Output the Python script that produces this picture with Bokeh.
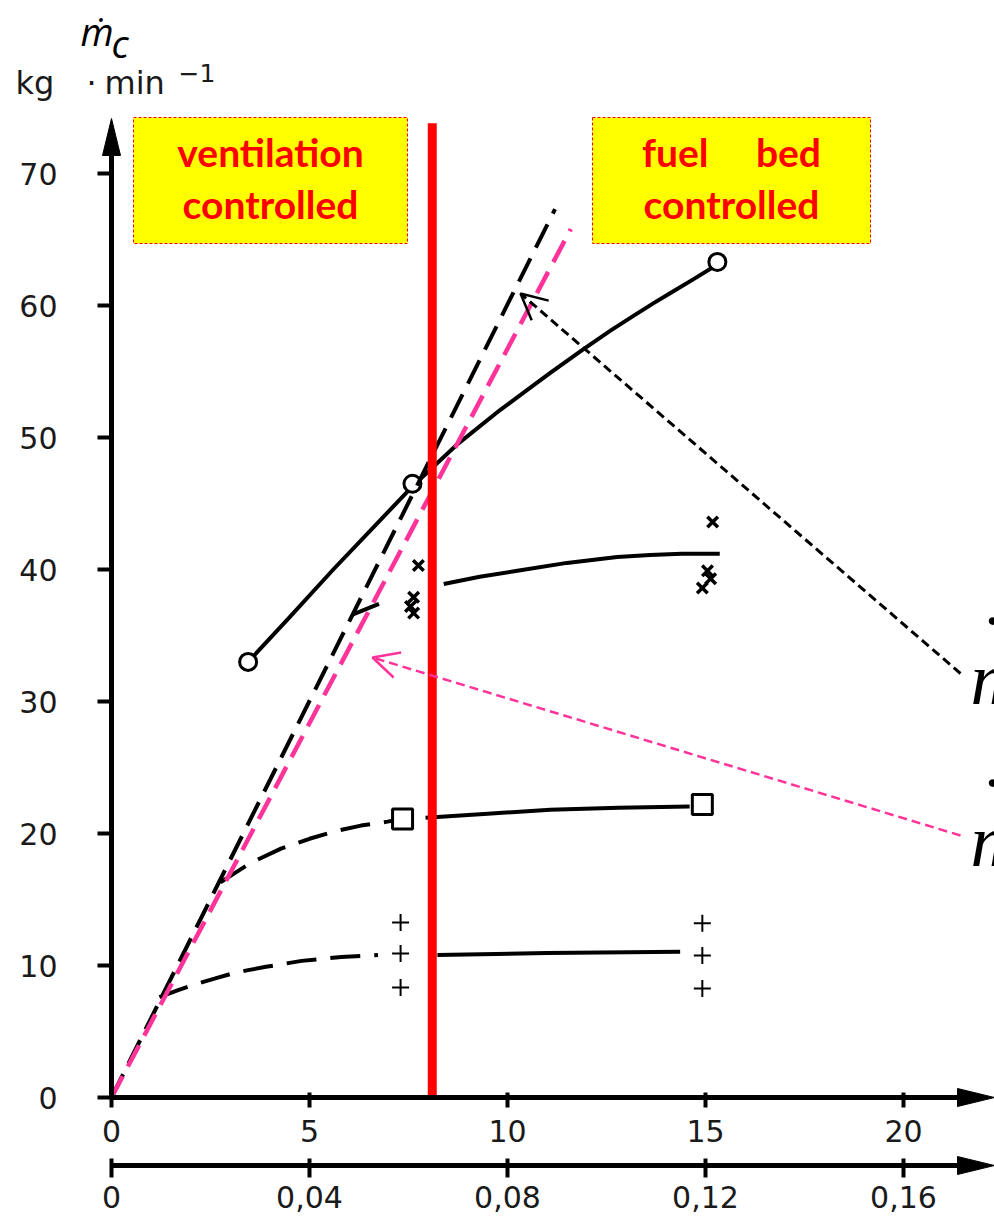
from bokeh.plotting import figure
from bokeh.models import Range1d, LinearAxis, FixedTicker, Arrow, OpenHead
from bokeh.core.properties import value
from bokeh.embed import file_html
from bokeh.resources import INLINE

# ---------------- data ----------------
x_ticks = [0, 5, 10, 15, 20]
y_ticks = [0, 10, 20, 30, 40, 50, 60, 70]
x2_ticks = [0, 0.04, 0.08, 0.12, 0.16]
x2_labels = ["0", "0,04", "0,08", "0,12", "0,16"]
x2_factor = 0.008

# series "o"
circ_x = [3.45, 7.6, 15.3]
circ_y = [33.0, 46.5, 63.3]
circ_line_x = [3.45, 4.5, 5.6, 6.68, 7.6, 8.7, 9.82, 10.5, 11.08, 11.92, 12.6, 13.17, 13.7, 14.2, 14.7, 15.3]
circ_line_y = [33.0, 36.4, 40.0, 43.4, 46.3, 49.4, 52.1, 53.6, 54.9, 56.7, 58.1, 59.2, 60.2, 61.1, 62.0, 63.1]

# series "x"
cross_x = [7.75, 7.63, 7.55, 7.63, 15.18, 15.05, 15.13, 14.92]
cross_y = [40.3, 37.9, 37.2, 36.7, 43.6, 39.9, 39.3, 38.6]
cross_dash_x = [6.1, 7.0]
cross_dash_y = [36.6, 37.7]
cross_line_x = [8.39, 9.3, 10.25, 11.5, 12.77, 13.6, 14.4, 15.36]
cross_line_y = [38.9, 39.45, 39.9, 40.5, 40.95, 41.1, 41.2, 41.2]

# series "square"
sq_x = [7.35, 14.92]
sq_y = [21.1, 22.2]
sq_dash_x = [2.75, 3.5, 4.28, 5.0, 5.62, 6.3, 6.97, 7.35]
sq_dash_y = [16.3, 17.75, 18.85, 19.6, 20.15, 20.6, 20.9, 21.1]
sq_line_x = [7.93, 9.5, 11.08, 12.8, 14.6]
sq_line_y = [21.2, 21.5, 21.8, 21.95, 22.05]

# series "+"
plus_x = [7.30, 7.30, 7.30, 14.92, 14.92, 14.92]
plus_y = [13.26, 10.9, 8.33, 13.2, 10.76, 8.26]
plus_dash_x = [1.21, 1.7, 2.14, 2.6, 3.0, 3.45, 3.9, 4.8, 5.8, 6.73]
plus_dash_y = [7.6, 8.15, 8.6, 9.0, 9.35, 9.65, 9.9, 10.35, 10.65, 10.8]
plus_line_x = [8.23, 11.0, 14.36]
plus_line_y = [10.8, 10.95, 11.05]

# limit lines from the origin
black_lim_x = [0, 11.2]
black_lim_y = [0, 67.3]
pink_lim_x = [0, 11.6]
pink_lim_y = [0, 65.8]

# regime boundary
red_x = 8.1
red_top = 73.8

# ---------------- layout ----------------
W, H = 994, 1219
X0PX, XSC = 111.0, 39.6
Y0PX, YSC = 1097.0, 13.2


def dx(px):
    return (px - X0PX) / XSC


def dy(py):
    return (Y0PX - py) / YSC


xr = (dx(0), dx(W))
yr = (dy(H), dy(0))

p = figure(width=W, height=H, x_range=Range1d(*xr), y_range=Range1d(*yr),
           x_axis_type=None, y_axis_type=None, toolbar_location=None,
           output_backend="svg", min_border=0, outline_line_color=None)
p.extra_x_ranges = {"x2": Range1d(xr[0] * x2_factor, xr[1] * x2_factor)}

FONT = "DejaVu Sans"
INK = "#1a1a1a"

yax = LinearAxis(fixed_location=0, bounds=(0, dy(150)),
                 ticker=FixedTicker(ticks=y_ticks, minor_ticks=[]))
yax.axis_line_width = 5
yax.major_tick_line_width = 4
yax.major_tick_out = 14
yax.major_tick_in = 0
yax.minor_tick_out = 0
yax.major_label_standoff = 40
yax.major_label_text_font = FONT
yax.major_label_text_font_size = "30px"
yax.major_label_text_color = INK
p.add_layout(yax, "left")

xax = LinearAxis(fixed_location=0, bounds=(0, dx(960)),
                 ticker=FixedTicker(ticks=x_ticks, minor_ticks=[]))
xax.axis_line_width = 5
xax.major_tick_line_width = 4
xax.major_tick_out = 10
xax.major_tick_in = 5
xax.minor_tick_out = 0
xax.major_label_standoff = 12
xax.major_label_text_font = FONT
xax.major_label_text_font_size = "30px"
xax.major_label_text_color = INK
p.add_layout(xax, "below")

x2ax = LinearAxis(x_range_name="x2", fixed_location=dy(1165),
                  bounds=(0, dx(960) * x2_factor),
                  ticker=FixedTicker(ticks=x2_ticks, minor_ticks=[]),
                  major_label_overrides=dict(zip(x2_ticks, x2_labels)))
x2ax.axis_line_width = 5
x2ax.major_tick_line_width = 4
x2ax.major_tick_out = 12
x2ax.major_tick_in = 7
x2ax.minor_tick_out = 0
x2ax.major_label_standoff = 8
x2ax.major_label_text_font = FONT
x2ax.major_label_text_font_size = "30px"
x2ax.major_label_text_color = INK
p.add_layout(x2ax, "below")

# axis arrow heads
L_h, HW_v = 37 / XSC, 9 / YSC
for yc in (0, dy(1165)):
    p.patch(x=[xr[1] - L_h, xr[1], xr[1] - L_h], y=[yc + HW_v, yc, yc - HW_v], color="black")
L_v, HW_h = 37 / YSC, 9 / XSC
ytip = dy(118)
p.patch(x=[-HW_h, 0, HW_h], y=[ytip - L_v, ytip, ytip - L_v], color="black")

# curves
p.line(circ_line_x, circ_line_y, line_width=4, color="black", line_join="round")
p.line(cross_dash_x, cross_dash_y, line_width=4, color="black", line_dash="28 14")
p.line(cross_line_x, cross_line_y, line_width=4, color="black", line_join="round")
p.line(sq_dash_x, sq_dash_y, line_width=4, color="black", line_dash="30 14")
p.line(sq_line_x, sq_line_y, line_width=4, color="black", line_join="round")
p.line(plus_dash_x, plus_dash_y, line_width=4, color="black", line_dash="30 14")
p.line(plus_line_x, plus_line_y, line_width=4, color="black")

# markers
p.scatter(circ_x, circ_y, marker="circle", size=17, line_width=3, line_color="black", fill_color="white")
p.scatter(sq_x, sq_y, marker="square", size=20, line_width=3, line_color="black", fill_color="white")
p.scatter(cross_x, cross_y, marker="x", size=15, line_width=3.5, line_color="black")
p.scatter(plus_x, plus_y, marker="cross", size=17, line_width=2, line_color="black")

# limit lines
p.line(black_lim_x, black_lim_y, line_width=4, color="black", line_dash="26 12")
p.line(pink_lim_x, pink_lim_y, line_width=4.5, color="#FF3399", line_dash="24 11")

# red boundary
p.line([red_x, red_x], [0, red_top], line_width=9, color="#FF0000")

# regime boxes
p.quad(left=[dx(133), dx(592)], right=[dx(407), dx(870)], top=[dy(117), dy(117)],
       bottom=[dy(243), dy(243)], fill_color="#FFFF00", line_color="#FF0000",
       line_width=1, line_dash="3 2")
p.text(x=[dx(270), dx(270), dx(731), dx(731)],
       y=[dy(151), dy(203), dy(151), dy(203)],
       text=["ventilation", "controlled", "fuel\u00a0\u00a0\u00a0\u00a0\u00a0bed", "controlled"],
       text_font=value("Lato"), text_font_style="bold", text_font_size="39px",
       text_color="#FF0000", text_align="center", text_baseline="alphabetic")

# annotation arrows
p.add_layout(Arrow(end=OpenHead(size=26, line_width=2.5, line_color="black"),
                   x_start=dx(960), y_start=dy(673), x_end=dx(520), y_end=dy(293),
                   line_dash="9 5", line_width=3, line_color="black"))
p.add_layout(Arrow(end=OpenHead(size=26, line_width=2.5, line_color="#FF3399"),
                   x_start=dx(960), y_start=dy(835), x_end=dx(372), y_end=dy(657),
                   line_dash="9 5", line_width=2.5, line_color="#FF3399"))

# right-hand symbols (cut by the edge, as in the original)
p.text(x=[dx(970), dx(970)], y=[dy(678), dy(840)], text=["m", "m"],
       text_font=value("Liberation Serif"), text_font_style="italic",
       text_font_size="74px", text_color="black", text_align="left",
       text_baseline="alphabetic")
p.text(x=[dx(992), dx(992)], y=[dy(640), dy(802)], text=["\u02d9", "\u02d9"],
       text_font=value("Liberation Serif"), text_font_size="74px",
       text_color="black", text_align="center", text_baseline="alphabetic")

# y-axis title
p.text(x=[dx(80)], y=[dy(30)], text=["\u1e41"], text_font=value("Open Sans"),
       text_font_style="italic", text_font_size="38px", text_color="black",
       text_align="left", text_baseline="alphabetic")
p.text(x=[dx(111)], y=[dy(42)], text=["c"], text_font=value("Open Sans"),
       text_font_style="italic", text_font_size="38px", text_color="black",
       text_align="left", text_baseline="alphabetic")
p.text(x=[dx(15), dx(86), dx(104)], y=[dy(82), dy(82), dy(82)],
       text=["kg", "\u00b7", "min"], text_font=value(FONT), text_font_size="32px",
       text_color=INK, text_align="left", text_baseline="alphabetic")
p.text(x=[dx(178)], y=[dy(72)], text=["\u22121"], text_font=value(FONT),
       text_font_size="25px", text_color=INK, text_align="left",
       text_baseline="alphabetic")

open("out.html", "w").write(file_html(p, INLINE))
